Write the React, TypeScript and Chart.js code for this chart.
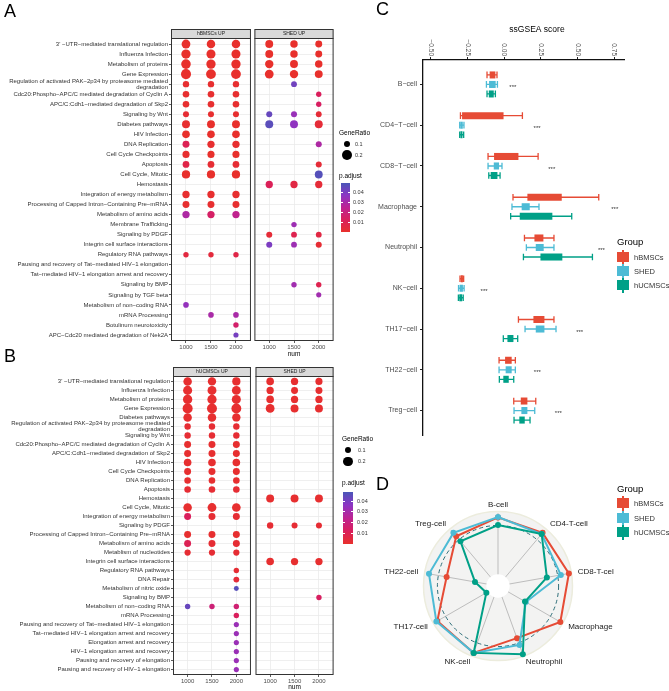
import React, { useEffect, useRef } from 'react';
import { Chart, registerables } from 'chart.js';

Chart.register(...registerables);

const FONT = "'Liberation Sans', Arial, Helvetica, sans-serif";
Chart.defaults.font.family = FONT;

// ---------------- Panel A / B : enrichment dot plots ----------------
const numTicks = [1000, 1500, 2000];

const rowsA: (string | string[])[] = [
  "3' −UTR−mediated translational regulation",
  'Influenza Infection',
  'Metabolism of proteins',
  'Gene Expression',
  ['Regulation of activated PAK−2p34 by proteasome mediated', 'degradation'],
  'Cdc20:Phospho−APC/C mediated degradation of Cyclin A',
  'APC/C:Cdh1−mediated degradation of Skp2',
  'Signaling by Wnt',
  'Diabetes pathways',
  'HIV Infection',
  'DNA Replication',
  'Cell Cycle Checkpoints',
  'Apoptosis',
  'Cell Cycle, Mitotic',
  'Hemostasis',
  'Integration of energy metabolism',
  'Processing of Capped Intron−Containing Pre−mRNA',
  'Metabolism of amino acids',
  'Membrane Trafficking',
  'Signaling by PDGF',
  'Integrin cell surface interactions',
  'Regulatory RNA pathways',
  'Pausing and recovery of Tat−mediated HIV−1 elongation',
  'Tat−mediated HIV−1 elongation arrest and recovery',
  'Signaling by BMP',
  'Signaling by TGF beta',
  'Metabolism of non−coding RNA',
  'mRNA Processing',
  'Botulinum neurotoxicity',
  'APC−Cdc20 mediated degradation of Nek2A',
];

// [row index, num, GeneRatio, p.adjust]
const dotsA_hBMSCs: number[][] = [
  [0, 1000, 0.16, 0.001], [0, 1500, 0.15, 0.001], [0, 2000, 0.15, 0.001],
  [1, 1000, 0.18, 0.001], [1, 1500, 0.17, 0.001], [1, 2000, 0.17, 0.001],
  [2, 1000, 0.19, 0.001], [2, 1500, 0.18, 0.001], [2, 2000, 0.18, 0.001],
  [3, 1000, 0.21, 0.001], [3, 1500, 0.2, 0.001], [3, 2000, 0.2, 0.001],
  [4, 1000, 0.085, 0.002], [4, 1500, 0.085, 0.002], [4, 2000, 0.085, 0.002],
  [5, 1000, 0.09, 0.002], [5, 1500, 0.09, 0.002], [5, 2000, 0.09, 0.002],
  [6, 1000, 0.09, 0.002], [6, 1500, 0.09, 0.002], [6, 2000, 0.09, 0.002],
  [7, 1000, 0.075, 0.003], [7, 1500, 0.075, 0.002], [7, 2000, 0.075, 0.002],
  [8, 1000, 0.13, 0.002], [8, 1500, 0.13, 0.001], [8, 2000, 0.13, 0.001],
  [9, 1000, 0.12, 0.001], [9, 1500, 0.12, 0.001], [9, 2000, 0.12, 0.001],
  [10, 1000, 0.1, 0.011], [10, 1500, 0.11, 0.002], [10, 2000, 0.11, 0.002],
  [11, 1000, 0.105, 0.002], [11, 1500, 0.105, 0.001], [11, 2000, 0.105, 0.001],
  [12, 1000, 0.095, 0.008], [12, 1500, 0.095, 0.003], [12, 2000, 0.095, 0.003],
  [13, 1000, 0.14, 0.001], [13, 1500, 0.14, 0.001], [13, 2000, 0.14, 0.001],
  [15, 1000, 0.11, 0.002], [15, 1500, 0.11, 0.002], [15, 2000, 0.11, 0.002],
  [16, 1000, 0.1, 0.002], [16, 1500, 0.1, 0.002], [16, 2000, 0.1, 0.002],
  [17, 1000, 0.11, 0.029], [17, 1500, 0.11, 0.015], [17, 2000, 0.11, 0.024],
  [21, 1000, 0.06, 0.006], [21, 1500, 0.06, 0.005], [21, 2000, 0.06, 0.008],
  [26, 1000, 0.065, 0.035],
  [27, 1500, 0.065, 0.03], [27, 2000, 0.065, 0.03],
  [28, 2000, 0.06, 0.016],
  [29, 2000, 0.055, 0.041],
];

const dotsA_SHED: number[][] = [
  [0, 1000, 0.13, 0.001], [0, 1500, 0.115, 0.001], [0, 2000, 0.1, 0.001],
  [1, 1000, 0.13, 0.001], [1, 1500, 0.115, 0.001], [1, 2000, 0.1, 0.001],
  [2, 1000, 0.145, 0.001], [2, 1500, 0.13, 0.001], [2, 2000, 0.115, 0.001],
  [3, 1000, 0.16, 0.001], [3, 1500, 0.145, 0.001], [3, 2000, 0.13, 0.001],
  [4, 1500, 0.07, 0.042],
  [5, 2000, 0.06, 0.013],
  [6, 2000, 0.06, 0.014],
  [7, 1000, 0.075, 0.044], [7, 1500, 0.075, 0.034], [7, 2000, 0.07, 0.004],
  [8, 1000, 0.13, 0.046], [8, 1500, 0.13, 0.036], [8, 2000, 0.13, 0.004],
  [10, 2000, 0.075, 0.029],
  [12, 2000, 0.075, 0.004],
  [13, 2000, 0.13, 0.047],
  [14, 1000, 0.11, 0.012], [14, 1500, 0.11, 0.007], [14, 2000, 0.11, 0.004],
  [18, 1500, 0.06, 0.033],
  [19, 1000, 0.075, 0.004], [19, 1500, 0.07, 0.01], [19, 2000, 0.07, 0.007],
  [20, 1000, 0.075, 0.04], [20, 1500, 0.07, 0.033], [20, 2000, 0.075, 0.003],
  [24, 1500, 0.06, 0.032], [24, 2000, 0.06, 0.01],
  [25, 2000, 0.055, 0.032],
];

const rowsB: (string | string[])[] = [
  "3' −UTR−mediated translational regulation",
  'Influenza Infection',
  'Metabolism of proteins',
  'Gene Expression',
  'Diabetes pathways',
  ['Regulation of activated PAK−2p34 by proteasome mediated', 'degradation'],
  'Signaling by Wnt',
  'Cdc20:Phospho−APC/C mediated degradation of Cyclin A',
  'APC/C:Cdh1−mediated degradation of Skp2',
  'HIV Infection',
  'Cell Cycle Checkpoints',
  'DNA Replication',
  'Apoptosis',
  'Hemostasis',
  'Cell Cycle, Mitotic',
  'Integration of energy metabolism',
  'Signaling by PDGF',
  'Processing of Capped Intron−Containing Pre−mRNA',
  'Metabolism of amino acids',
  'Metablism of nucleotides',
  'Integrin cell surface interactions',
  'Regulatory RNA pathways',
  'DNA Repair',
  'Metabolism of nitric oxide',
  'Signaling by BMP',
  'Metabolism of non−coding RNA',
  'mRNA Processing',
  'Pausing and recovery of Tat−mediated HIV−1 elongation',
  'Tat−mediated HIV−1 elongation arrest and recovery',
  'Elongation arrest and recovery',
  'HIV−1 elongation arrest and recovery',
  'Pausing and recovery of elongation',
  'Pausing and recovery of HIV−1 elongation',
];

const dotsB_hUCMSCs: number[][] = [
  [0, 1000, 0.15, 0.001], [0, 1500, 0.145, 0.001], [0, 2000, 0.14, 0.001],
  [1, 1000, 0.17, 0.001], [1, 1500, 0.165, 0.001], [1, 2000, 0.16, 0.001],
  [2, 1000, 0.18, 0.001], [2, 1500, 0.175, 0.001], [2, 2000, 0.17, 0.001],
  [3, 1000, 0.21, 0.001], [3, 1500, 0.205, 0.001], [3, 2000, 0.2, 0.001],
  [4, 1000, 0.15, 0.001], [4, 1500, 0.15, 0.001], [4, 2000, 0.145, 0.001],
  [5, 1000, 0.085, 0.002], [5, 1500, 0.085, 0.002], [5, 2000, 0.085, 0.002],
  [6, 1000, 0.085, 0.002], [6, 1500, 0.085, 0.002], [6, 2000, 0.085, 0.002],
  [7, 1000, 0.1, 0.001], [7, 1500, 0.1, 0.001], [7, 2000, 0.1, 0.001],
  [8, 1000, 0.1, 0.001], [8, 1500, 0.1, 0.001], [8, 2000, 0.1, 0.001],
  [9, 1000, 0.12, 0.001], [9, 1500, 0.12, 0.001], [9, 2000, 0.12, 0.001],
  [10, 1000, 0.1, 0.001], [10, 1500, 0.1, 0.001], [10, 2000, 0.1, 0.001],
  [11, 1000, 0.09, 0.001], [11, 1500, 0.09, 0.001], [11, 2000, 0.09, 0.001],
  [12, 1000, 0.09, 0.002], [12, 1500, 0.09, 0.002], [12, 2000, 0.09, 0.002],
  [14, 1000, 0.15, 0.001], [14, 1500, 0.16, 0.001], [14, 2000, 0.155, 0.001],
  [15, 1000, 0.1, 0.012], [15, 1500, 0.1, 0.002], [15, 2000, 0.1, 0.002],
  [17, 1000, 0.1, 0.001], [17, 1500, 0.1, 0.001], [17, 2000, 0.1, 0.001],
  [18, 1000, 0.1, 0.01], [18, 1500, 0.1, 0.002], [18, 2000, 0.1, 0.002],
  [19, 1000, 0.08, 0.002], [19, 1500, 0.08, 0.002], [19, 2000, 0.08, 0.002],
  [21, 2000, 0.06, 0.002],
  [22, 2000, 0.07, 0.003],
  [23, 2000, 0.05, 0.046],
  [25, 1000, 0.06, 0.043], [25, 1500, 0.06, 0.018], [25, 2000, 0.06, 0.017],
  [26, 2000, 0.06, 0.012],
  [27, 2000, 0.055, 0.033], [28, 2000, 0.055, 0.033], [29, 2000, 0.055, 0.033],
  [30, 2000, 0.055, 0.033], [31, 2000, 0.055, 0.033], [32, 2000, 0.055, 0.033],
];

const dotsB_SHED: number[][] = [
  [0, 1000, 0.12, 0.001], [0, 1500, 0.11, 0.001], [0, 2000, 0.105, 0.001],
  [1, 1000, 0.11, 0.001], [1, 1500, 0.1, 0.001], [1, 2000, 0.1, 0.001],
  [2, 1000, 0.12, 0.001], [2, 1500, 0.11, 0.001], [2, 2000, 0.11, 0.001],
  [3, 1000, 0.16, 0.001], [3, 1500, 0.13, 0.001], [3, 2000, 0.13, 0.001],
  [13, 1000, 0.13, 0.001], [13, 1500, 0.13, 0.001], [13, 2000, 0.13, 0.001],
  [16, 1000, 0.085, 0.002], [16, 1500, 0.075, 0.002], [16, 2000, 0.075, 0.002],
  [20, 1000, 0.12, 0.001], [20, 1500, 0.11, 0.001], [20, 2000, 0.11, 0.001],
  [24, 2000, 0.06, 0.013],
];

const sizeLegendValues = [0.1, 0.2];
const pLegendTicks = [0.04, 0.03, 0.02, 0.01];
const pRangeA = [0.001, 0.049];
const pRangeB = [0.0, 0.0484];
const pStops = ['#E8302C', '#DA1F5C', '#BE2392', '#8C35C4', '#4A56B8'];

// ---------------- Panel C : ssGSEA boxplots ----------------
const cellTypes = ['B−cell', 'CD4−T−cell', 'CD8−T−cell', 'Macrophage', 'Neutrophil', 'NK−cell', 'TH17−cell', 'TH22−cell', 'Treg−cell'];
const groups = ['hBMSCs', 'SHED', 'hUCMSCs'];
const groupColors = ['#E64B35', '#4DBBD5', '#00A087'];
// [min, q1, q3, max]
const box_hBMSCs = [
  [-0.116, -0.098, -0.059, -0.048],
  [-0.297, -0.286, 0.0, 0.125],
  [-0.109, -0.068, 0.098, 0.232],
  [0.061, 0.159, 0.393, 0.645],
  [0.139, 0.207, 0.268, 0.34],
  [-0.3, -0.295, -0.28, -0.275],
  [0.098, 0.2, 0.275, 0.34],
  [-0.034, 0.007, 0.052, 0.077],
  [0.066, 0.114, 0.159, 0.216],
];
const box_SHED = [
  [-0.12, -0.102, -0.057, -0.045],
  [-0.302, -0.298, -0.281, -0.273],
  [-0.109, -0.07, -0.034, -0.014],
  [0.054, 0.12, 0.175, 0.238],
  [0.152, 0.216, 0.27, 0.34],
  [-0.31, -0.303, -0.28, -0.272],
  [0.143, 0.216, 0.275, 0.354],
  [-0.034, 0.011, 0.052, 0.077],
  [0.068, 0.118, 0.159, 0.209],
];
const box_hUCMSCs = [
  [-0.116, -0.104, -0.07, -0.059],
  [-0.302, -0.297, -0.283, -0.275],
  [-0.104, -0.091, -0.045, -0.027],
  [0.045, 0.107, 0.329, 0.461],
  [0.132, 0.248, 0.397, 0.602],
  [-0.311, -0.305, -0.285, -0.278],
  [-0.005, 0.023, 0.064, 0.093],
  [-0.032, -0.005, 0.032, 0.066],
  [0.068, 0.104, 0.141, 0.177],
];
const boxes = [box_hBMSCs, box_SHED, box_hUCMSCs];
const scoreTicks = [-0.5, -0.25, 0, 0.25, 0.5, 0.75];
const scoreTickLabels = ['−0.50', '−0.25', '0.00', '0.25', '0.50', '0.75'];
const starX = [0.06, 0.225, 0.325, 0.754, 0.663, -0.136, 0.515, 0.227, 0.37];

// ---------------- Panel D : radar ----------------
const radarLabels = ['B-cell', 'CD4-T-cell', 'CD8-T-cel', 'Macrophage', 'Neutrophil', 'NK-cell', 'TH17-cell', 'TH22-cell', 'Treg-cell'];
const radar_hBMSCs = [94, 95, 98.6, 98.6, 76, 97.5, 96, 71.5, 89];
const radar_SHED = [94.5, 93, 87.4, 44, 86, 97.5, 97.5, 96, 95];
const radar_hUCMSCs = [83.5, 93, 68, 42.7, 99.5, 97.5, 18.4, 32, 80];
const radarMid = 83;
const radarInner = 16;

// ---------------- helpers ----------------
const sizeOf = (gr: number) => 11 * Math.sqrt(gr);

function hexToRgb(h: string) {
  return [1, 3, 5].map((i) => parseInt(h.slice(i, i + 2), 16));
}
function pColor(p: number, lo: number, hi: number) {
  const stops = pStops.map(hexToRgb);
  const t = Math.max(0, Math.min(1, (p - lo) / (hi - lo))) * (stops.length - 1);
  const i = Math.min(Math.floor(t), stops.length - 2);
  const f = t - i;
  const c = stops[i].map((v, k) => Math.round(v + (stops[i + 1][k] - v) * f));
  return `rgb(${c[0]},${c[1]},${c[2]})`;
}

function panelPlugin(strip: string) {
  return {
    id: 'panelDeco',
    afterDraw(chart: any) {
      const { ctx, chartArea: a } = chart;
      ctx.save();
      ctx.strokeStyle = '#333';
      ctx.lineWidth = 1;
      ctx.strokeRect(a.left + 0.5, a.top + 0.5, a.right - a.left - 1, a.bottom - a.top - 1);
      ctx.fillStyle = '#D9D9D9';
      ctx.fillRect(a.left, a.top - 9, a.right - a.left, 9);
      ctx.strokeRect(a.left + 0.5, a.top - 8.5, a.right - a.left - 1, 9);
      ctx.fillStyle = '#1A1A1A';
      ctx.font = `5px ${FONT}`;
      ctx.textAlign = 'center';
      ctx.textBaseline = 'middle';
      ctx.fillText(strip, (a.left + a.right) / 2, a.top - 4.2);
      ctx.restore();
    },
  };
}

type DotOpts = {
  rows: (string | string[])[];
  dots: number[][];
  labels: boolean;
  strip: string;
  title: boolean;
  pRange: number[];
  W: number; H: number;
  left: number; top: number; right: number; bottom: number;
  titlePad: number; tickPad: number;
};

function dotConfig(o: DotOpts): any {
  const n = o.rows.length;
  return {
    type: 'bubble',
    data: {
      datasets: [{
        data: o.dots.map((d) => ({ x: d[1], y: d[0], r: sizeOf(d[2]) })),
        backgroundColor: o.dots.map((d) => pColor(d[3], o.pRange[0], o.pRange[1])),
        borderWidth: 0,
        hoverRadius: 0,
        clip: false,
      }],
    },
    options: {
      animation: false,
      responsive: false,
      devicePixelRatio: 1,
      events: [],
      layout: { padding: { left: o.labels ? 0 : o.left, top: o.top, right: o.W - o.right, bottom: 0 } },
      plugins: { legend: { display: false }, tooltip: { enabled: false } },
      scales: {
        x: {
          type: 'linear', min: 700, max: 2300,
          afterBuildTicks: (s: any) => { s.ticks = numTicks.map((v) => ({ value: v })); },
          ticks: { font: { family: FONT, size: 6 }, color: '#4D4D4D', padding: o.tickPad, maxRotation: 0, autoSkip: false, callback: (v: any) => String(v) },
          grid: { color: '#EBEBEB', lineWidth: 0.8, tickColor: '#333', tickLength: 2, tickWidth: 0.8 },
          border: { display: false },
          title: { display: o.title, text: 'num', color: '#000', font: { family: FONT, size: 6.5 }, padding: { top: 0, bottom: o.titlePad } },
          afterFit: (s: any) => { s.height = o.H - o.bottom; },
        },
        y: {
          type: 'linear', min: -0.6, max: n - 0.4, reverse: true,
          afterBuildTicks: (s: any) => { s.ticks = o.rows.map((_, i) => ({ value: i })); },
          ticks: {
            display: o.labels,
            autoSkip: false,
            font: { family: FONT, size: 6, lineHeight: 1.0 },
            color: '#333',
            padding: 1,
            callback: (v: any) => o.rows[v],
          },
          grid: { color: '#EBEBEB', lineWidth: 0.8, tickColor: '#333', tickLength: 2, tickWidth: 0.8, drawTicks: o.labels },
          border: { display: false },
          afterFit: (s: any) => { s.width = o.labels ? o.left : 0; },
        },
      },
    },
    plugins: [panelPlugin(o.strip)],
  };
}

function boxConfig(): any {
  const deco = {
    id: 'boxDeco',
    beforeDatasetsDraw(chart: any) {
      const ctx = chart.ctx;
      const xs = chart.scales.x;
      ctx.save();
      boxes.forEach((set, gi) => {
        const meta = chart.getDatasetMeta(gi);
        ctx.strokeStyle = groupColors[gi];
        ctx.lineWidth = 1.3;
        set.forEach((b, i) => {
          const el: any = meta.data[i];
          if (!el) return;
          const y = el.y;
          const h = el.height * 0.95;
          const x1 = xs.getPixelForValue(b[0]);
          const x2 = xs.getPixelForValue(b[3]);
          ctx.beginPath();
          ctx.moveTo(x1, y); ctx.lineTo(x2, y);
          ctx.moveTo(x1, y - h / 2); ctx.lineTo(x1, y + h / 2);
          ctx.moveTo(x2, y - h / 2); ctx.lineTo(x2, y + h / 2);
          ctx.stroke();
        });
      });
      ctx.restore();
    },
    afterDraw(chart: any) {
      const ctx = chart.ctx;
      const xs = chart.scales.x;
      const ys = chart.scales.y;
      const a = chart.chartArea;
      ctx.save();
      // stars
      ctx.fillStyle = '#333';
      ctx.font = `6px ${FONT}`;
      ctx.textAlign = 'center';
      ctx.textBaseline = 'middle';
      starX.forEach((v, i) => ctx.fillText('***', xs.getPixelForValue(v), ys.getPixelForValue(i) + 3));
      // rotated tick labels (top axis)
      ctx.fillStyle = '#4D4D4D';
      ctx.font = `6.5px ${FONT}`;
      scoreTicks.forEach((v, i) => {
        ctx.save();
        ctx.translate(xs.getPixelForValue(v), a.top - 4);
        ctx.rotate(Math.PI / 2);
        ctx.textAlign = 'right';
        ctx.textBaseline = 'middle';
        ctx.fillText(scoreTickLabels[i], 0, 0);
        ctx.restore();
      });
      // axis title
      ctx.fillStyle = '#000';
      ctx.font = `8.5px ${FONT}`;
      ctx.textAlign = 'center';
      ctx.fillText('ssGSEA score', 167, 12);
      ctx.restore();
    },
  };
  return {
    type: 'bar',
    data: {
      datasets: groups.map((g, gi) => ({
        label: g,
        data: boxes[gi].map((b, i) => ({ y: i, x: [b[1], b[2]] })),
        backgroundColor: groupColors[gi],
        borderWidth: 0,
        borderSkipped: false,
        categoryPercentage: 0.7,
        barPercentage: 0.74,
      })),
    },
    options: {
      indexAxis: 'y',
      animation: false,
      responsive: false,
      devicePixelRatio: 1,
      events: [],
      layout: { padding: { left: 0, top: 0, right: 45, bottom: 13 } },
      plugins: { legend: { display: false }, tooltip: { enabled: false } },
      scales: {
        x: {
          type: 'linear', position: 'top', min: -0.552, max: 0.817,
          afterBuildTicks: (s: any) => { s.ticks = scoreTicks.map((v) => ({ value: v })); },
          ticks: { display: false },
          grid: { drawOnChartArea: false, drawTicks: true, tickLength: 3, tickColor: '#222', tickWidth: 1 },
          border: { display: true, color: '#111', width: 1.3 },
          afterFit: (s: any) => { s.height = 42; },
        },
        y: {
          type: 'linear', min: -0.6, max: cellTypes.length - 0.4, reverse: true, offset: false,
          afterBuildTicks: (s: any) => { s.ticks = cellTypes.map((_, i) => ({ value: i })); },
          ticks: { autoSkip: false, font: { family: FONT, size: 7 }, color: '#4D4D4D', padding: 3, callback: (v: any) => cellTypes[v] },
          grid: { drawOnChartArea: false, drawTicks: true, tickLength: 3, tickColor: '#222', tickWidth: 1, offset: false },
          border: { display: true, color: '#111', width: 1.3 },
          afterFit: (s: any) => { s.width = 53; },
        },
      },
    },
    plugins: [deco],
  };
}

function radarConfig(): any {
  const deco = {
    id: 'radarDeco',
    beforeDraw(chart: any) {
      const s = chart.scales.r;
      const ctx = chart.ctx;
      const R = s.getDistanceFromCenterForValue(100) + 1.5;
      ctx.save();
      ctx.beginPath();
      ctx.arc(s.xCenter, s.yCenter, R, 0, Math.PI * 2);
      ctx.fillStyle = '#F3F3F2';
      ctx.fill();
      ctx.strokeStyle = '#ECECDD';
      ctx.lineWidth = 1.5;
      ctx.stroke();
      ctx.restore();
    },
    beforeDatasetsDraw(chart: any) {
      const s = chart.scales.r;
      const ctx = chart.ctx;
      ctx.save();
      ctx.beginPath();
      ctx.arc(s.xCenter, s.yCenter, s.getDistanceFromCenterForValue(radarInner), 0, Math.PI * 2);
      ctx.fillStyle = '#FFFFFF';
      ctx.fill();
      ctx.beginPath();
      ctx.arc(s.xCenter, s.yCenter, s.getDistanceFromCenterForValue(radarMid), 0, Math.PI * 2);
      ctx.setLineDash([4, 3]);
      ctx.strokeStyle = '#2F6F7A';
      ctx.lineWidth = 1;
      ctx.stroke();
      ctx.restore();
    },
    afterDraw(chart: any) {
      const s = chart.scales.r;
      const ctx = chart.ctx;
      const R = s.getDistanceFromCenterForValue(100);
      ctx.save();
      ctx.fillStyle = '#1A1A1A';
      ctx.font = `8px ${FONT}`;
      ctx.textBaseline = 'middle';
      radarLabels.forEach((lab, i) => {
        const deg = (s.getIndexAngle(i) * 180) / Math.PI;
        const pos = s.getPointPosition(i, R + 8);
        let align: CanvasTextAlign = 'center';
        if (deg > 5 && deg < 175) align = 'left';
        else if (deg > 185 && deg < 355) align = 'right';
        ctx.textAlign = align;
        ctx.fillText(lab, pos.x, pos.y);
      });
      ctx.restore();
    },
  };
  const sets = [radar_hBMSCs, radar_SHED, radar_hUCMSCs];
  return {
    type: 'radar',
    data: {
      labels: radarLabels,
      datasets: sets.map((d, gi) => ({
        label: groups[gi],
        data: d,
        borderColor: groupColors[gi],
        backgroundColor: 'rgba(0,0,0,0)',
        pointBackgroundColor: groupColors[gi],
        pointBorderColor: groupColors[gi],
        pointRadius: 3,
        pointBorderWidth: 0,
        borderWidth: 2,
        fill: false,
        tension: 0,
        order: 2 - gi,
      })),
    },
    options: {
      animation: false,
      responsive: false,
      devicePixelRatio: 1,
      events: [],
      layout: { padding: { left: 55, top: 23, right: 59, bottom: 32 } },
      plugins: { legend: { display: false }, tooltip: { enabled: false } },
      scales: {
        r: {
          min: 0, max: 100,
          ticks: { display: false },
          pointLabels: { display: false },
          grid: { display: false },
          angleLines: { display: true, color: '#BDBDBD', lineWidth: 1 },
        },
      },
    },
    plugins: [deco],
  };
}

// ---------------- React pieces ----------------
function ChartCanvas({ x, y, w, h, make }: { x: number; y: number; w: number; h: number; make: () => any }) {
  const ref = useRef<HTMLCanvasElement | null>(null);
  useEffect(() => {
    if (!ref.current) return;
    const chart = new Chart(ref.current, make());
    return () => chart.destroy();
  }, []);
  return <canvas ref={ref} width={w} height={h} style={{ position: 'absolute', left: x, top: y, width: w, height: h }} />;
}

function T({ x, y, s, children, anchor = 'start', color = '#000' }: any) {
  const style: any = {
    position: 'absolute', top: y - s * 0.6, height: s * 1.2, lineHeight: `${s * 1.2}px`,
    fontSize: s, whiteSpace: 'nowrap', color, fontFamily: FONT,
  };
  if (anchor === 'start') style.left = x;
  else if (anchor === 'middle') { style.left = x; style.transform = 'translateX(-50%)'; }
  else style.right = 669 - x;
  return <div style={style}>{children}</div>;
}

function DotLegend({ x, titleY, dotY, dotX, labelX, pTitleY, barX, barTop, barH, tickX, pRange }: any) {
  const grad = `linear-gradient(to top, ${pStops.join(',')})`;
  return (
    <>
      <T x={x} y={titleY} s={6.5}>GeneRatio</T>
      {sizeLegendValues.map((v: number, i: number) => {
        const r = sizeOf(v);
        return (
          <React.Fragment key={v}>
            <div style={{ position: 'absolute', left: dotX - r, top: dotY[i] - r, width: 2 * r, height: 2 * r, borderRadius: '50%', background: '#000' }} />
            <T x={labelX} y={dotY[i]} s={5.5} color="#333">{String(v)}</T>
          </React.Fragment>
        );
      })}
      <T x={x} y={pTitleY} s={6.5}>p.adjust</T>
      <div style={{ position: 'absolute', left: barX, top: barTop, width: 9.5, height: barH, background: grad }} />
      {pLegendTicks.map((v: number) => {
        const yy = barTop + barH - ((v - pRange[0]) / (pRange[1] - pRange[0])) * barH;
        return (
          <React.Fragment key={v}>
            <div style={{ position: 'absolute', left: barX, top: yy - 0.4, width: 2, height: 0.8, background: '#fff' }} />
            <div style={{ position: 'absolute', left: barX + 7.5, top: yy - 0.4, width: 2, height: 0.8, background: '#fff' }} />
            <T x={tickX} y={yy} s={5.5} color="#333">{v.toFixed(2)}</T>
          </React.Fragment>
        );
      })}
    </>
  );
}

function GroupLegend({ x, titleY, keyY }: { x: number; titleY: number; keyY: number[] }) {
  return (
    <>
      <T x={x} y={titleY} s={9.5}>Group</T>
      {groups.map((g, i) => (
        <React.Fragment key={g}>
          <div style={{ position: 'absolute', left: x + 5.4, top: keyY[i] - 7.5, width: 1.3, height: 15, background: groupColors[i] }} />
          <div style={{ position: 'absolute', left: x, top: keyY[i] - 5, width: 12, height: 10, background: groupColors[i] }} />
          <T x={x + 17} y={keyY[i]} s={7.5} color="#333">{g}</T>
        </React.Fragment>
      ))}
    </>
  );
}

export default function App() {
  return (
    <div style={{ position: 'absolute', left: 0, top: 0, width: 669, height: 691, background: '#fff', overflow: 'hidden', fontFamily: FONT }}>
      {/* Panel A */}
      <ChartCanvas x={0} y={0} w={256} h={362} make={() => dotConfig({
        rows: rowsA, dots: dotsA_hBMSCs, labels: true, strip: 'hBMSCs UP', title: false, pRange: pRangeA,
        W: 256, H: 362, left: 171, top: 38, right: 251, bottom: 341, titlePad: 4, tickPad: 1,
      })} />
      <ChartCanvas x={250} y={0} w={88} h={362} make={() => dotConfig({
        rows: rowsA, dots: dotsA_SHED, labels: false, strip: 'SHED UP', title: true, pRange: pRangeA,
        W: 88, H: 362, left: 4, top: 38, right: 84, bottom: 341, titlePad: 4, tickPad: 1,
      })} />
      {/* Panel B */}
      <ChartCanvas x={0} y={356} w={256} h={335} make={() => dotConfig({
        rows: rowsB, dots: dotsB_hUCMSCs, labels: true, strip: 'hUCMSCs UP', title: false, pRange: pRangeB,
        W: 256, H: 335, left: 173, top: 20, right: 252, bottom: 319, titlePad: 0, tickPad: 0.5,
      })} />
      <ChartCanvas x={250} y={356} w={88} h={335} make={() => dotConfig({
        rows: rowsB, dots: dotsB_SHED, labels: false, strip: 'SHED UP', title: true, pRange: pRangeB,
        W: 88, H: 335, left: 5.5, top: 20, right: 84.5, bottom: 319, titlePad: 0, tickPad: 0.5,
      })} />
      {/* Panel C */}
      <ChartCanvas x={370} y={18} w={299} h={430} make={boxConfig} />
      {/* Panel D */}
      <ChartCanvas x={370} y={490} w={260} h={201} make={radarConfig} />

      <DotLegend x={339} titleY={133} dotY={[144, 155]} dotX={347} labelX={355} pTitleY={176}
        barX={340.5} barTop={183} barH={48.5} tickX={353} pRange={pRangeA} />
      <DotLegend x={342} titleY={439} dotY={[450, 461.5]} dotX={348} labelX={358} pTitleY={483}
        barX={343} barTop={492} barH={52} tickX={357} pRange={pRangeB} />

      <GroupLegend x={617} titleY={242} keyY={[257, 271, 285]} />
      <GroupLegend x={617} titleY={489} keyY={[503, 518, 532]} />

      <T x={4} y={11.5} s={18}>A</T>
      <T x={4} y={356.5} s={18}>B</T>
      <T x={376} y={10} s={18}>C</T>
      <T x={376} y={485} s={18}>D</T>
    </div>
  );
}
